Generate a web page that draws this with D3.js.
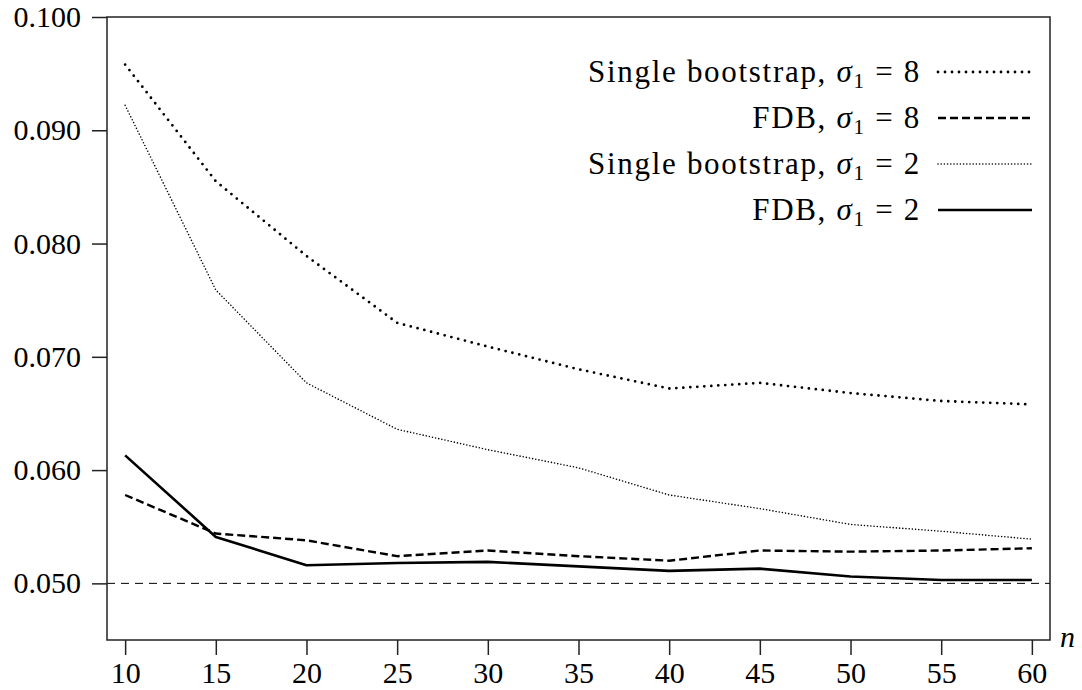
<!DOCTYPE html>
<html>
<head>
<meta charset="utf-8">
<script src="https://cdn.jsdelivr.net/npm/d3@7"></script>
<style>
  body { margin: 0; background: #fff; }
  svg { display: block; font-family: "Liberation Serif", "DejaVu Serif", serif; }
  .axis text { font-size: 30px; fill: #000; }
  .axis line { stroke: #222; stroke-width: 1.5; }
  .legend text { font-size: 31px; fill: #000; letter-spacing: 1.7px; }
</style>
</head>
<body>
<div id="chart"></div>
<script>
// sample sizes
var nValues = [10, 15, 20, 25, 30, 35, 40, 45, 50, 55, 60];

// rejection frequencies
var singleS8 = [0.0958, 0.0855, 0.0789, 0.0730, 0.0709, 0.0689, 0.0672, 0.0677, 0.0668, 0.0661, 0.0658];
var fdbS8    = [0.0578, 0.0544, 0.0538, 0.0524, 0.0529, 0.0524, 0.0520, 0.0529, 0.0528, 0.0529, 0.0531];
var singleS2 = [0.0922, 0.0759, 0.0677, 0.0636, 0.0618, 0.0602, 0.0578, 0.0566, 0.0552, 0.0546, 0.0539];
var fdbS2    = [0.0613, 0.0541, 0.0516, 0.0518, 0.0519, 0.0515, 0.0511, 0.0513, 0.0506, 0.0503, 0.0503];

var nominalLevel = 0.05;
var yTicks = [0.050, 0.060, 0.070, 0.080, 0.090, 0.100];
var xTicks = [10, 15, 20, 25, 30, 35, 40, 45, 50, 55, 60];

var legendLabels = [
  { pre: "Single bootstrap, ", val: "8" },
  { pre: "FDB, ", val: "8" },
  { pre: "Single bootstrap, ", val: "2" },
  { pre: "FDB, ", val: "2" }
];

var width = 1082, height = 690;
var plotLeft = 107, plotRight = 1050, plotTop = 17, plotBottom = 640;

var x = d3.scaleLinear().domain([9, 61]).range([plotLeft, plotRight]);
var y = d3.scaleLinear().domain([0.045, 0.100]).range([plotBottom, plotTop]);

var svg = d3.select("#chart").append("svg")
  .attr("width", width)
  .attr("height", height);

// line styles per series
var styles = [
  { data: singleS8, width: 2.8, dash: "0 7", cap: "round" },
  { data: fdbS8,    width: 2.4, dash: "8 4", cap: "butt" },
  { data: singleS2, width: 1.6, dash: "0 3.2", cap: "round" },
  { data: fdbS2,    width: 2.6, dash: null, cap: "butt" }
];

// 5% reference line
svg.append("line")
  .attr("x1", plotLeft).attr("x2", plotRight)
  .attr("y1", y(nominalLevel)).attr("y2", y(nominalLevel))
  .attr("stroke", "#000")
  .attr("stroke-width", 1)
  .attr("stroke-dasharray", "8 6");

var line = d3.line()
  .x(function(d, i) { return x(nValues[i]); })
  .y(function(d) { return y(d); });

styles.forEach(function(s) {
  svg.append("path")
    .datum(s.data)
    .attr("d", line)
    .attr("fill", "none")
    .attr("stroke", "#000")
    .attr("stroke-width", s.width)
    .attr("stroke-linecap", s.cap)
    .attr("stroke-linejoin", "round")
    .attr("stroke-dasharray", s.dash);
});

// box
svg.append("rect")
  .attr("x", plotLeft).attr("y", plotTop)
  .attr("width", plotRight - plotLeft).attr("height", plotBottom - plotTop)
  .attr("fill", "none")
  .attr("stroke", "#222")
  .attr("stroke-width", 1.5);

// axes
var yAxis = d3.axisLeft(y).tickValues(yTicks).tickSize(15).tickPadding(11)
  .tickFormat(d3.format(".3f"));
var xAxis = d3.axisBottom(x).tickValues(xTicks).tickSize(15).tickPadding(7)
  .tickFormat(d3.format("d"));

var gy = svg.append("g").attr("class", "axis")
  .attr("transform", "translate(" + plotLeft + ",0)")
  .call(yAxis)
  .attr("font-family", null).attr("font-size", null);
gy.select(".domain").remove();

var gx = svg.append("g").attr("class", "axis")
  .attr("transform", "translate(0," + plotBottom + ")")
  .call(xAxis)
  .attr("font-family", null).attr("font-size", null);
gx.select(".domain").remove();

// n label
svg.append("text")
  .attr("x", 1060).attr("y", 647)
  .attr("font-size", 30)
  .attr("font-style", "italic")
  .text("n");

// legend
var legendY = [72, 118, 164, 210];
var lg = svg.append("g").attr("class", "legend");
legendLabels.forEach(function(l, i) {
  var t = lg.append("text")
    .attr("x", 921)
    .attr("y", legendY[i] + 10)
    .attr("text-anchor", "end");
  t.append("tspan").text(l.pre);
  t.append("tspan").attr("font-style", "italic").text("σ");
  t.append("tspan").attr("font-size", 21).attr("dy", 6).text("1");
  t.append("tspan").attr("dy", -6).text(" = " + l.val);

  var s = styles[i];
  lg.append("line")
    .attr("x1", 938).attr("x2", 1032)
    .attr("y1", legendY[i]).attr("y2", legendY[i])
    .attr("stroke", "#000")
    .attr("stroke-width", s.width)
    .attr("stroke-linecap", s.cap)
    .attr("stroke-dasharray", s.dash);
});
</script>
</body>
</html>
